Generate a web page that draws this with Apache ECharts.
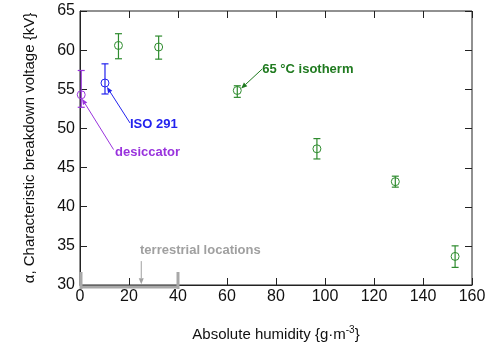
<!DOCTYPE html>
<html><head><meta charset="utf-8">
<script src="https://cdn.jsdelivr.net/npm/echarts@6/dist/echarts.min.js"></script>
<style>html,body{margin:0;padding:0;background:#fff}#c{width:493px;height:347px}</style>
</head><body><div id="c"></div>
<script>
// Data: [humidity, alpha, lower, upper]
const desiccator = [[0.5, 54.3, 52.7, 57.4]];
const iso291 = [[10.2, 55.8, 54.4, 58.25]];
const isotherm65 = [
  [15.7, 60.6, 58.9, 62.1],
  [32.1, 60.4, 58.85, 61.8],
  [64.2, 54.85, 53.97, 55.45],
  [96.7, 47.4, 46.1, 48.7],
  [128.7, 43.2, 42.5, 43.9],
  [153.1, 33.65, 32.25, 35.0]
];
const terrestrialRange = [0, 40];
const xTicks = [0, 20, 40, 60, 80, 100, 120, 140, 160];
const yTicks = [30, 35, 40, 45, 50, 55, 60, 65];

// annotations: text, text anchor (data), arrow from -> to (data)
const annotations = [
  {text: '65 °C isotherm', color: '#1f7a1f', tx: 74.4, ty: 57.6, ax: [74.4, 57.6], at: [65.8, 55.1]},
  {text: 'ISO 291', color: '#2222ee', tx: 20.4, ty: 50.55, ax: [20.4, 50.7], at: [11.0, 55.3]},
  {text: 'desiccator', color: '#9933dd', tx: 14.3, ty: 46.9, ax: [13.7, 47.3], at: [0.8, 53.8]},
  {text: 'terrestrial locations', color: '#a0a0a0', tx: 24.5, ty: 34.4, ax: [25, 33.05], at: [25, 30.1]}
];

const chart = echarts.init(document.getElementById('c'));
const FONT = 'Liberation Sans, Arial, sans-serif';

function errSeries(data, color) {
  return [{
    type: 'custom', data: data, z: 3,
    renderItem: function (params, api) {
      const x = api.value(0);
      const lo = api.coord([x, api.value(2)]);
      const hi = api.coord([x, api.value(3)]);
      const c = api.coord([x, api.value(1)]);
      const w = 3.5;
      const st = {stroke: color, lineWidth: 1.2};
      return {type: 'group', children: [
        {type: 'line', shape: {x1: lo[0], y1: lo[1], x2: hi[0], y2: hi[1]}, style: st},
        {type: 'line', shape: {x1: lo[0]-w, y1: lo[1], x2: lo[0]+w, y2: lo[1]}, style: st},
        {type: 'line', shape: {x1: hi[0]-w, y1: hi[1], x2: hi[0]+w, y2: hi[1]}, style: st},
        {type: 'circle', shape: {cx: c[0], cy: c[1], r: 4}, style: {fill: 'none', stroke: color, lineWidth: 1}}
      ]};
    }
  }];
}

function annSeries(a) {
  return {
    type: 'custom', data: [[a.tx, a.ty]], z: 5, clip: false,
    renderItem: function (params, api) {
      const p = api.coord([a.tx, a.ty]);
      const s = api.coord(a.ax);
      const e = api.coord(a.at);
      const ang = Math.atan2(e[1]-s[1], e[0]-s[0]);
      const L = 6, W = 2.5;
      const bx = e[0] - L*Math.cos(ang), by = e[1] - L*Math.sin(ang);
      const nx = -Math.sin(ang), ny = Math.cos(ang);
      return {type: 'group', children: [
        {type: 'line', shape: {x1: s[0], y1: s[1], x2: bx, y2: by}, style: {stroke: a.color, lineWidth: 1}},
        {type: 'polygon', shape: {points: [[e[0], e[1]], [bx+nx*W, by+ny*W], [bx-nx*W, by-ny*W]]}, style: {fill: a.color}},
        {type: 'text', x: p[0], y: p[1], style: {text: a.text, fill: a.color, font: 'bold 13px ' + FONT, align: 'left', verticalAlign: 'middle'}}
      ]};
    }
  };
}

const terrSeries = {
  type: 'custom', data: [[terrestrialRange[0], terrestrialRange[1]]], z: 6, clip: false,
  renderItem: function (params, api) {
    const a = api.coord([api.value(0), 30]);
    const b = api.coord([api.value(1), 30]);
    const col = '#a8a8a8';
    return {type: 'group', children: [
      {type: 'line', shape: {x1: a[0], y1: a[1]+2, x2: b[0], y2: b[1]+2}, style: {stroke: col, lineWidth: 3}},
      {type: 'line', shape: {x1: a[0]+1, y1: a[1]-13, x2: a[0]+1, y2: a[1]+4}, style: {stroke: col, lineWidth: 3}},
      {type: 'line', shape: {x1: b[0], y1: b[1]-13, x2: b[0], y2: b[1]+4}, style: {stroke: col, lineWidth: 3}}
    ]};
  }
};

// top and right frame ticks, placed through the axes' scales
const frameTicks = {
  type: 'custom', data: [[0, 0]], z: 2, clip: false, silent: true,
  renderItem: function (params, api) {
    const ymax = yTicks[yTicks.length-1], xmax = xTicks[xTicks.length-1];
    const st = {stroke: '#222', lineWidth: 1};
    const ch = [];
    xTicks.forEach(t => {
      const p = api.coord([t, ymax]);
      ch.push({type: 'line', shape: {x1: Math.round(p[0])+0.5, y1: p[1], x2: Math.round(p[0])+0.5, y2: p[1]+7}, style: st});
    });
    yTicks.forEach(t => {
      const p = api.coord([xmax, t]);
      ch.push({type: 'line', shape: {x1: p[0], y1: Math.round(p[1])+0.5, x2: p[0]-7, y2: Math.round(p[1])+0.5}, style: st});
    });
    return {type: 'group', children: ch};
  }
};

const axisLine = {show: true, onZero: false, lineStyle: {color: '#222', width: 1}};
const axisTick = {show: true, inside: true, length: 7, lineStyle: {color: '#222'}};

chart.setOption({
  animation: false,
  grid: {left: 80, right: 21, top: 11, bottom: 61, show: true, borderColor: '#222', borderWidth: 1, backgroundColor: 'transparent'},
  xAxis: [{
    type: 'value', min: xTicks[0], max: xTicks[xTicks.length-1], interval: 20,
    axisLine: axisLine, axisTick: axisTick, splitLine: {show: false},
    axisLabel: {color: '#111', fontSize: 16, fontFamily: FONT, margin: 4},
    name: 'Absolute humidity {g·m{sup|-3}}', nameLocation: 'middle', nameGap: 40,
    nameTextStyle: {color: '#111', fontSize: 15, fontFamily: FONT,
      rich: {sup: {fontSize: 10, verticalAlign: 'top', padding: [0,0,9,0], color: '#111'}}}
  }],
  yAxis: [{
    type: 'value', min: yTicks[0], max: yTicks[yTicks.length-1], interval: 5,
    axisLine: axisLine, axisTick: axisTick, splitLine: {show: false},
    axisLabel: {color: '#111', fontSize: 16, fontFamily: FONT, margin: 5},
    name: 'α, Characteristic breakdown voltage {kV}', nameLocation: 'middle', nameGap: 43,
    nameTextStyle: {color: '#111', fontSize: 15, fontFamily: FONT}
  }],
  series: [
    frameTicks,
    ...errSeries(desiccator, '#9933dd'),
    ...errSeries(iso291, '#2222ee'),
    ...errSeries(isotherm65, '#2e8b2e'),
    ...annotations.map(annSeries),
    terrSeries
  ]
});
</script></body></html>
